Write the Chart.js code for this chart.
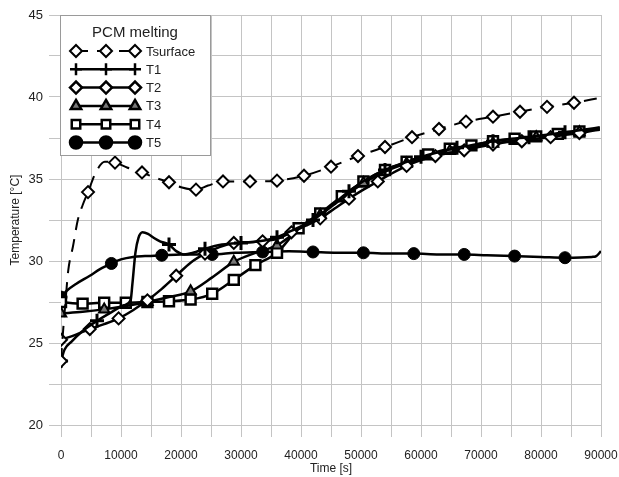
<!DOCTYPE html>
<html>
<head>
<meta charset="utf-8">
<script src="https://cdn.jsdelivr.net/npm/chart.js@4/dist/chart.umd.min.js"></script>
<style>
  body { margin: 0; background: #fff; }
  #wrap { width: 619px; height: 477px; }
</style>
</head>
<body>
<div id="wrap"><canvas id="pcmChart" width="619" height="477"></canvas></div>
<script>
// time [s] / temperature [°C]
const tsurfTime = [0, 300, 700, 1200, 2000, 2800, 3600, 4500, 5800, 7300, 9000, 11000, 13500, 15500, 18000, 20000, 22500, 24500, 27000, 31500, 36000, 40500, 45000, 49500, 54000, 58500, 63000, 67500, 72000, 76500, 81000, 85500, 89800];
const tsurfTemp = [23.9, 25.5, 27.3, 29.4, 30.9, 32.5, 33.4, 34.2, 35.4, 36.05, 36.0, 35.7, 35.4, 35.1, 34.8, 34.5, 34.35, 34.6, 34.85, 34.85, 34.9, 35.2, 35.75, 36.4, 36.95, 37.55, 38.05, 38.5, 38.8, 39.1, 39.4, 39.65, 39.95];

const t1Time = [0, 600, 1800, 3500, 6000, 8500, 10500, 11600, 11900, 12400, 12900, 13600, 14500, 15500, 16500, 18000, 19200, 20500, 22000, 24000, 26000, 28000, 30000, 33000, 36000, 39000, 42000, 45000, 48000, 51000, 54000, 57000, 60000, 63000, 66000, 69000, 72000, 75000, 78000, 81000, 84000, 87000, 89800];
const t1Temp = [23.9, 24.6, 25.1, 25.7, 26.35, 26.9, 27.3, 27.6, 28.6, 30.5, 31.4, 31.75, 31.65, 31.4, 31.2, 31.0, 30.6, 30.4, 30.5, 30.75, 30.95, 31.05, 31.1, 31.2, 31.45, 31.95, 32.5, 33.35, 34.25, 35.0, 35.55, 35.95, 36.35, 36.65, 36.9, 37.1, 37.3, 37.45, 37.55, 37.7, 37.85, 38.0, 38.15];

const t2Time = [0, 2400, 4800, 7200, 9600, 12000, 14400, 16800, 19200, 21600, 24000, 26400, 28800, 31200, 33600, 36000, 38400, 40800, 43200, 45600, 48000, 50400, 52800, 55200, 57600, 60000, 62400, 64800, 67200, 69600, 72000, 74400, 76800, 79200, 81600, 84000, 86400, 88800, 89800];
const t2Temp = [25.2, 25.5, 25.85, 26.15, 26.5, 27.0, 27.6, 28.3, 29.1, 29.9, 30.45, 30.85, 31.1, 31.15, 31.2, 31.35, 31.75, 32.15, 32.6, 33.2, 33.8, 34.35, 34.85, 35.35, 35.8, 36.15, 36.4, 36.6, 36.75, 36.95, 37.1, 37.25, 37.3, 37.45, 37.55, 37.7, 37.8, 37.95, 38.0];

const t3Time = [0, 3600, 7200, 10800, 14400, 18000, 21600, 25200, 28800, 32400, 36000, 37800, 39600, 43200, 46800, 50400, 54000, 57600, 61200, 64800, 68400, 72000, 75600, 79200, 82800, 86400, 89800];
const t3Temp = [26.8, 26.9, 27.05, 27.25, 27.5, 27.8, 28.15, 29.0, 29.95, 30.5, 30.95, 31.4, 31.95, 32.8, 33.8, 34.75, 35.45, 35.95, 36.35, 36.7, 36.95, 37.15, 37.35, 37.55, 37.7, 37.85, 38.05];

const t4Time = [0, 3600, 7200, 10800, 14400, 18000, 21600, 25200, 28800, 32400, 36000, 39600, 43200, 46800, 50400, 54000, 57600, 61200, 64800, 68400, 72000, 75600, 79200, 82800, 86400, 89800];
const t4Temp = [27.5, 27.4, 27.45, 27.45, 27.5, 27.55, 27.65, 28.0, 28.85, 29.75, 30.5, 32.0, 32.9, 33.95, 34.85, 35.55, 36.05, 36.5, 36.85, 37.05, 37.3, 37.45, 37.6, 37.75, 37.9, 38.1];

const t5Time = [0, 1000, 2500, 4800, 6500, 8400, 10000, 12000, 14000, 16800, 20000, 25200, 29000, 33600, 38000, 42000, 46000, 50400, 55000, 58800, 63000, 67200, 71000, 75600, 80000, 84000, 88500, 89200, 90000];
const t5Temp = [27.8, 28.2, 28.6, 29.1, 29.5, 29.85, 30.1, 30.25, 30.3, 30.35, 30.4, 30.4, 30.5, 30.55, 30.6, 30.55, 30.5, 30.5, 30.45, 30.45, 30.4, 30.4, 30.35, 30.3, 30.25, 30.2, 30.25, 30.3, 30.6];

const xTicks = [0, 10000, 20000, 30000, 40000, 50000, 60000, 70000, 80000, 90000];
const yTicks = [20, 25, 30, 35, 40, 45];

const FONT = 'Liberation Sans, Arial, sans-serif';

function toPoints(times, temps) {
    return times.map((t, i) => ({ x: t, y: temps[i] }));
}

function makeSeries(label, times, temps, step, style) {
    return {
        label: label,
        data: toPoints(times, temps),
        borderColor: '#000',
        borderWidth: style.lineWidth || 2.5,
        borderDash: style.dash || [],
        cubicInterpolationMode: 'monotone',
        fill: false,
        pointStyle: style.point,
        pointRadius: ctx => (ctx.raw && ctx.raw.x % step === 0) ? style.radius : 0,
        pointBackgroundColor: style.fill,
        pointBorderColor: '#000',
        pointBorderWidth: style.pointBorder,
        markerStyle: style
    };
}

const seriesStyles = {
    Tsurface: { point: 'rectRot', radius: 6, fill: '#fff', pointBorder: 2, dash: [13, 9], lineWidth: 2 },
    T1: { point: 'cross', radius: 7, fill: '#000', pointBorder: 3 },
    T2: { point: 'rectRot', radius: 6, fill: '#fff', pointBorder: 2 },
    T3: { point: 'triangle', radius: 6, fill: '#777', pointBorder: 2 },
    T4: { point: 'rect', radius: 7, fill: '#fff', pointBorder: 2.5 },
    T5: { point: 'circle', radius: 6, fill: '#000', pointBorder: 1 }
};

const datasets = [
    makeSeries('Tsurface', tsurfTime, tsurfTemp, 4500, seriesStyles.Tsurface),
    makeSeries('T1', t1Time, t1Temp, 6000, seriesStyles.T1),
    makeSeries('T2', t2Time, t2Temp, 4800, seriesStyles.T2),
    makeSeries('T3', t3Time, t3Temp, 7200, seriesStyles.T3),
    makeSeries('T4', t4Time, t4Temp, 3600, seriesStyles.T4),
    makeSeries('T5', t5Time, t5Temp, 8400, seriesStyles.T5)
];

// legend box drawn inside the plot, top-left, like the original
const boxLegend = {
    id: 'boxLegend',
    afterDraw(chart) {
        const ctx = chart.ctx;
        const area = chart.chartArea;
        const x0 = area.left - 1, y0 = area.top;
        ctx.save();
        ctx.fillStyle = '#fff';
        ctx.strokeStyle = '#9a9a9a';
        ctx.lineWidth = 1;
        ctx.fillRect(x0, y0, 151, 141);
        ctx.strokeRect(x0 + 0.5, y0 + 0.5, 150, 140);

        ctx.fillStyle = '#222';
        ctx.font = '15px ' + FONT;
        ctx.textAlign = 'center';
        ctx.textBaseline = 'middle';
        ctx.fillText('PCM melting', x0 + 75, y0 + 18);

        ctx.font = '13px ' + FONT;
        ctx.textAlign = 'left';
        chart.data.datasets.forEach((ds, i) => {
            const st = ds.markerStyle;
            const yy = y0 + 36 + i * 18.3;
            ctx.strokeStyle = '#000';
            ctx.lineWidth = st.lineWidth || 2.5;
            ctx.setLineDash(st.dash || []);
            ctx.beginPath();
            ctx.moveTo(x0 + 15, yy);
            ctx.lineTo(x0 + 76, yy);
            ctx.stroke();
            ctx.setLineDash([]);
            [x0 + 16, x0 + 46, x0 + 75].forEach(px => {
                ctx.fillStyle = st.fill;
                ctx.strokeStyle = '#000';
                Chart.helpers.drawPoint(ctx, {
                    pointStyle: st.point,
                    radius: Math.min(st.radius, 6),
                    rotation: 0,
                    borderWidth: st.pointBorder
                }, px, yy);
            });
            ctx.fillStyle = '#222';
            ctx.fillText(ds.label, x0 + 86, yy + 1);
        });
        ctx.restore();
    }
};

new Chart(document.getElementById('pcmChart').getContext('2d'), {
    type: 'line',
    data: { datasets: datasets },
    options: {
        responsive: false,
        animation: false,
        layout: { padding: { top: 15, right: 18, left: 0, bottom: 0 } },
        plugins: {
            legend: { display: false },
            tooltip: { enabled: false }
        },
        scales: {
            x: {
                type: 'linear',
                min: 0,
                max: 90000,
                afterFit: scale => {
                    scale.height = 52;
                    scale.paddingLeft = 0;
                    scale.paddingRight = 0;
                },
                ticks: {
                    stepSize: 5000,
                    autoSkip: false,
                    maxRotation: 0,
                    padding: 11,
                    color: '#222',
                    font: { family: FONT, size: 12 },
                    callback: v => xTicks.includes(v) ? String(v) : ''
                },
                grid: { color: '#c4c4c4', lineWidth: 1, tickLength: 12 },
                border: { color: '#c4c4c4' },
                title: {
                    display: true,
                    text: 'Time [s]',
                    color: '#222',
                    font: { family: FONT, size: 12 },
                    padding: { top: 0, bottom: 1 }
                }
            },
            y: {
                min: 20,
                max: 45,
                afterFit: scale => {
                    scale.width = 61;
                    scale.paddingTop = 0;
                    scale.paddingBottom = 0;
                },
                ticks: {
                    stepSize: 2.5,
                    autoSkip: false,
                    padding: 6,
                    color: '#222',
                    font: { family: FONT, size: 13 },
                    callback: v => yTicks.includes(v) ? String(v) : ''
                },
                grid: { color: '#c4c4c4', lineWidth: 1, tickLength: 12 },
                border: { color: '#c4c4c4' },
                title: {
                    display: true,
                    text: 'Temperature [°C]',
                    color: '#222',
                    font: { family: FONT, size: 12 },
                    padding: { top: 8, bottom: 0 }
                }
            }
        }
    },
    plugins: [boxLegend]
});
</script>
</body>
</html>
